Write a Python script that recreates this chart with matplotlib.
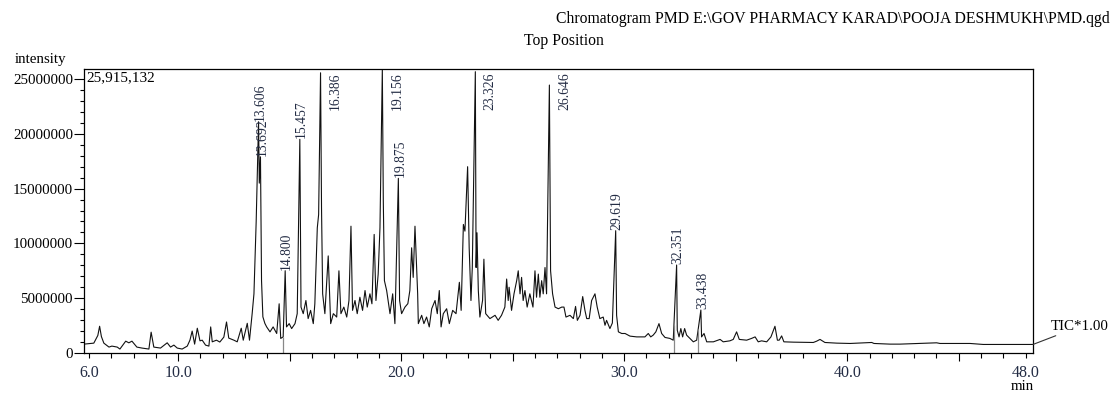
import numpy as np
import matplotlib.pyplot as plt
from matplotlib.ticker import FixedLocator, FuncFormatter, MultipleLocator

plt.rcParams['font.family'] = ['Liberation Serif', 'DejaVu Serif']

# retention time (min) and TIC intensity (millions of counts)
rt_min = np.array([
    5.78, 6.22, 6.40, 6.48, 6.56, 6.67, 6.90, 7.03, 7.27, 7.39, 7.65, 7.79, 7.93, 8.15, 8.38,
    8.69, 8.79, 8.91, 9.21, 9.51, 9.66, 9.81, 9.96, 10.18, 10.41, 10.53, 10.63, 10.74, 10.86, 10.98,
    11.08, 11.23, 11.38, 11.46, 11.53, 11.72, 11.87, 12.05, 12.17, 12.27, 12.50, 12.65, 12.83, 12.92, 13.10,
    13.20, 13.32, 13.40, 13.50, 13.606, 13.64, 13.692, 13.74, 13.80, 13.89, 13.97, 14.12, 14.26, 14.42, 14.53,
    14.60, 14.71, 14.800, 14.86, 14.98, 15.09, 15.24, 15.34, 15.457, 15.51, 15.61, 15.73, 15.83, 15.94, 16.06,
    16.13, 16.24, 16.30, 16.386, 16.43, 16.48, 16.58, 16.73, 16.84, 16.96, 17.11, 17.21, 17.30, 17.43, 17.56,
    17.66, 17.75, 17.82, 17.93, 18.03, 18.15, 18.27, 18.38, 18.48, 18.60, 18.69, 18.79, 18.87, 18.97, 19.05,
    19.156, 19.20, 19.25, 19.35, 19.50, 19.62, 19.72, 19.875, 19.93, 20.02, 20.17, 20.30, 20.39, 20.47, 20.54,
    20.62, 20.69, 20.74, 20.77, 20.92, 21.02, 21.14, 21.26, 21.37, 21.52, 21.62, 21.71, 21.79, 21.89, 22.04,
    22.16, 22.31, 22.46, 22.61, 22.69, 22.79, 22.86, 22.98, 23.05, 23.13, 23.19, 23.326, 23.36, 23.40, 23.46,
    23.53, 23.65, 23.71, 23.79, 23.98, 24.21, 24.35, 24.50, 24.65, 24.73, 24.80, 24.84, 24.95, 25.06, 25.18,
    25.25, 25.33, 25.40, 25.47, 25.55, 25.65, 25.77, 25.91, 26.00, 26.07, 26.15, 26.22, 26.30, 26.37, 26.45,
    26.52, 26.646, 26.70, 26.79, 26.90, 27.05, 27.20, 27.30, 27.39, 27.57, 27.72, 27.82, 27.90, 28.02, 28.14,
    28.24, 28.32, 28.43, 28.54, 28.69, 28.79, 28.91, 29.06, 29.14, 29.21, 29.36, 29.47, 29.619, 29.66, 29.74,
    29.89, 30.04, 30.26, 30.56, 30.93, 31.08, 31.19, 31.30, 31.42, 31.56, 31.68, 31.83, 32.05, 32.20, 32.351,
    32.38, 32.46, 32.54, 32.62, 32.71, 32.80, 32.95, 33.10, 33.25, 33.438, 33.47, 33.58, 33.70, 34.00, 34.30,
    34.44, 34.74, 34.89, 35.04, 35.16, 35.49, 35.71, 35.87, 36.01, 36.16, 36.39, 36.58, 36.76, 36.87, 36.95,
    37.06, 37.16, 37.58, 38.48, 38.63, 38.78, 39.00, 39.53, 40.13, 41.10, 41.20, 41.92, 42.37, 43.26, 44.01,
    44.16, 45.51, 46.10, 47.30, 48.33,
])
tic_m = np.array([
    0.81, 0.90, 1.60, 2.44, 1.50, 0.90, 0.54, 0.63, 0.54, 0.36, 1.08, 0.93, 1.08, 0.54, 0.45,
    0.36, 1.90, 0.54, 0.45, 0.93, 0.54, 0.72, 0.45, 0.36, 0.63, 1.17, 2.00, 0.81, 2.26, 1.11,
    1.17, 0.72, 0.63, 2.38, 1.02, 1.17, 1.00, 1.45, 2.83, 1.36, 1.17, 1.02, 2.26, 1.17, 2.71,
    1.17, 3.60, 5.40, 12.0, 21.1, 15.5, 17.9, 6.60, 3.30, 2.70, 2.38, 1.93, 2.38, 1.78, 4.49,
    1.33, 1.47, 7.51, 2.38, 2.68, 2.23, 2.68, 3.59, 19.5, 4.19, 3.59, 4.79, 3.14, 3.89, 2.68,
    4.49, 11.42, 12.63, 25.57, 13.2, 5.40, 3.59, 8.86, 2.68, 3.59, 3.28, 7.50, 3.59, 4.19, 3.28,
    4.79, 11.57, 3.89, 4.79, 3.59, 5.09, 3.89, 5.70, 4.19, 5.40, 4.49, 10.82, 4.79, 7.20, 11.42,
    25.915132, 13.83, 6.60, 5.70, 3.59, 5.40, 2.68, 15.94, 4.79, 3.59, 4.19, 4.50, 5.70, 9.60, 6.90,
    11.57, 8.10, 5.40, 2.68, 3.44, 2.68, 3.28, 2.38, 4.04, 4.79, 3.59, 5.70, 2.38, 3.59, 4.04,
    2.68, 3.89, 3.59, 6.45, 3.89, 11.73, 11.12, 17.0, 9.60, 4.79, 7.80, 25.67, 7.80, 10.97, 5.70,
    3.28, 4.79, 8.56, 3.59, 3.14, 3.44, 2.98, 3.44, 4.19, 6.75, 4.79, 6.00, 3.89, 5.40, 6.60,
    7.50, 5.40, 6.90, 4.79, 5.70, 4.19, 5.40, 4.19, 7.50, 5.09, 7.20, 5.09, 6.60, 5.40, 7.80,
    5.40, 24.45, 7.50, 5.40, 4.19, 4.04, 4.19, 4.19, 3.28, 3.44, 3.14, 4.25, 2.98, 3.44, 5.15,
    3.89, 3.14, 3.14, 4.79, 5.40, 4.19, 3.14, 3.28, 2.53, 2.98, 2.23, 2.74, 11.16, 3.44, 1.93,
    1.78, 1.78, 1.54, 1.47, 1.47, 1.78, 1.47, 1.63, 1.93, 2.68, 1.78, 1.42, 1.33, 1.17, 8.03,
    2.08, 1.47, 2.23, 1.47, 2.23, 1.63, 1.33, 1.02, 1.17, 3.92, 1.47, 1.78, 1.02, 1.02, 1.24,
    1.02, 1.11, 1.24, 1.93, 1.24, 1.17, 1.33, 1.47, 1.02, 1.11, 1.02, 1.47, 2.44, 1.17, 1.17,
    1.56, 1.02, 0.99, 0.96, 1.08, 1.24, 0.96, 0.90, 0.87, 0.96, 0.87, 0.81, 0.81, 0.87, 0.93,
    0.87, 0.87, 0.78, 0.78, 0.78,
])

# labelled peaks; the tallest ones get their label pinned at the top of the frame
peak_rt = [13.606, 13.692, 14.800, 15.457, 16.386, 19.156, 19.875, 23.326, 26.646, 29.619, 32.351, 33.438]
top_peaks = [16.386, 19.156, 23.326, 26.646]
# peak-start marks that drop to the axis
mark_rt = [14.69, 32.23, 33.32]

y_max = 25915132
label_col = '#232c44'

fig = plt.figure(figsize=(11.14, 3.96), dpi=100)
ax = fig.add_axes([84 / 1114, 43 / 396, 949 / 1114, 284 / 396])

intensity = tic_m * 1e6
ax.plot(rt_min, intensity, color='#111111', lw=0.8)
ax.vlines(mark_rt, 0, np.interp(mark_rt, rt_min, intensity), color='#888888', lw=0.9)

ax.set_xlim(5.78, 48.33)
ax.set_ylim(0, y_max)

# peak labels
for rt in peak_rt:
    h = np.interp(rt, rt_min, intensity)
    if rt in top_peaks:
        ax.annotate(f'{rt:.3f}', xy=(rt, y_max), xytext=(15, -3), textcoords='offset pixels',
                    rotation=90, ha='center', va='top', fontsize=9.8, color=label_col)
    else:
        ax.annotate(f'{rt:.3f}', xy=(rt, h), xytext=(1.5, 1), textcoords='offset pixels',
                    rotation=90, ha='center', va='bottom', fontsize=9.8, color=label_col)

# x axis: long ticks every 5 min, short every minute
ax.xaxis.set_major_locator(FixedLocator(np.arange(10, 46, 5)))
ax.xaxis.set_major_formatter(FuncFormatter(lambda v, p: f'{v:.1f}' if v % 10 == 0 else ''))
ax.xaxis.set_minor_locator(FixedLocator(np.arange(6, 49, 1)))
ax.xaxis.set_minor_formatter(FuncFormatter(lambda v, p: f'{v:.1f}' if v in (6, 48) else ''))
ax.tick_params(axis='x', which='major', length=6, width=0.8, pad=2.5, labelsize=11.5, labelcolor=label_col)
ax.tick_params(axis='x', which='minor', length=3.6, width=0.8, pad=4.9, labelsize=11.5, labelcolor=label_col)

ax.yaxis.set_major_locator(MultipleLocator(5000000))
ax.yaxis.set_major_formatter(FuncFormatter(lambda v, p: f'{v:.0f}'))
ax.yaxis.set_minor_locator(MultipleLocator(1000000))
ax.tick_params(axis='y', which='major', length=7.5, width=0.8, pad=0.5, labelsize=10.8)
ax.tick_params(axis='y', which='minor', length=3, width=0.8)

for s in ax.spines.values():
    s.set_linewidth(0.9)

ax.text(0.003, 0.968, '25,915,132', transform=ax.transAxes, ha='left', va='center', fontsize=11)
ax.annotate('TIC*1.00', xy=(rt_min[-1], intensity[-1]), xytext=(18, 18), textcoords='offset pixels',
            ha='left', va='center', fontsize=10.8, annotation_clip=False,
            arrowprops=dict(arrowstyle='-', lw=0.8, color='#333333', shrinkA=0, shrinkB=0))

fig.text(1110 / 1114, 1 - 19 / 396, 'Chromatogram PMD E:\\GOV PHARMACY KARAD\\POOJA DESHMUKH\\PMD.qgd',
         ha='right', va='center', fontsize=11.3)
fig.text(524 / 1114, 1 - 41 / 396, 'Top Position', ha='left', va='center', fontsize=11.3)
fig.text(15 / 1114, 1 - 60 / 396, 'intensity', ha='left', va='center', fontsize=10.8)
fig.text(1022 / 1114, 1 - 387 / 396, 'min', ha='center', va='center', fontsize=10.8)

fig.savefig('out.png', dpi=100)
